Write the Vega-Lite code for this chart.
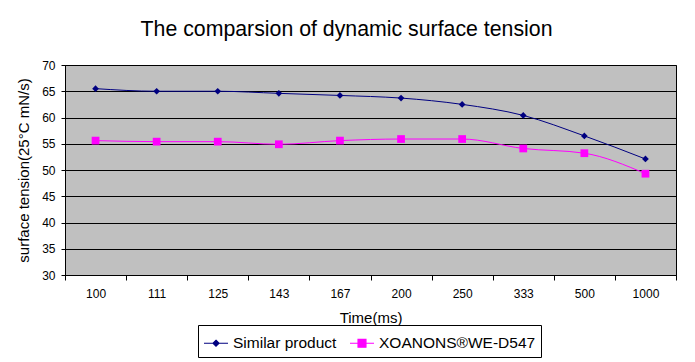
{
  "$schema": "https://vega.github.io/schema/vega-lite/v6.json",
  "autosize": "none",
  "width": 611,
  "height": 210,
  "padding": {"left": 65, "top": 65, "right": 19, "bottom": 87},
  "background": "white",
  "title": {"text": "The comparsion of dynamic surface tension", "font": "Liberation Sans", "fontSize": 21.3, "fontWeight": "normal", "color": "black", "offset": 19, "dx": -24},
  "data": {"values": [
    {"t": "100", "s": "Similar product", "v": 65.5},
    {"t": "111", "s": "Similar product", "v": 65.0},
    {"t": "125", "s": "Similar product", "v": 65.0},
    {"t": "143", "s": "Similar product", "v": 64.6},
    {"t": "167", "s": "Similar product", "v": 64.2},
    {"t": "200", "s": "Similar product", "v": 63.7},
    {"t": "250", "s": "Similar product", "v": 62.5},
    {"t": "333", "s": "Similar product", "v": 60.4},
    {"t": "500", "s": "Similar product", "v": 56.5},
    {"t": "1000", "s": "Similar product", "v": 52.1},
    {"t": "100", "s": "XOANONS®WE-D547", "v": 55.6},
    {"t": "111", "s": "XOANONS®WE-D547", "v": 55.4},
    {"t": "125", "s": "XOANONS®WE-D547", "v": 55.4},
    {"t": "143", "s": "XOANONS®WE-D547", "v": 54.9},
    {"t": "167", "s": "XOANONS®WE-D547", "v": 55.6},
    {"t": "200", "s": "XOANONS®WE-D547", "v": 55.9},
    {"t": "250", "s": "XOANONS®WE-D547", "v": 55.9},
    {"t": "333", "s": "XOANONS®WE-D547", "v": 54.1},
    {"t": "500", "s": "XOANONS®WE-D547", "v": 53.2},
    {"t": "1000", "s": "XOANONS®WE-D547", "v": 49.3}
  ]},
  "encoding": {
    "x": {"field": "t", "type": "ordinal", "sort": null,
      "scale": {"type": "band", "paddingInner": 0, "paddingOuter": 0},
      "axis": {"title": "Time(ms)", "titleFont": "Liberation Sans", "titleFontSize": 15, "titleFontWeight": "normal", "titleColor": "black", "titlePadding": 11,
        "labelFont": "Liberation Sans", "labelFontSize": 12, "labelColor": "black", "labelAngle": 0, "labelPadding": 8,
        "tickBand": "extent", "tickSize": 5, "tickColor": "black", "domainColor": "black", "grid": false}},
    "y": {"field": "v", "type": "quantitative",
      "scale": {"domain": [30, 70], "nice": false, "zero": false},
      "axis": {"title": "surface tension(25°C mN/s)", "titleFont": "Liberation Sans", "titleFontSize": 15, "titleFontWeight": "normal", "titleColor": "black", "titlePadding": 10,
        "labelFont": "Liberation Sans", "labelFontSize": 12, "labelColor": "black", "labelPadding": 6,
        "values": [30, 35, 40, 45, 50, 55, 60, 65, 70], "tickSize": 4, "tickColor": "black", "domainColor": "black",
        "grid": true, "gridColor": "black", "gridOpacity": 1, "gridWidth": 1}},
    "color": {"field": "s", "type": "nominal",
      "scale": {"domain": ["Similar product", "XOANONS®WE-D547"], "range": ["#000080", "#FF00FF"]},
      "legend": {"title": null, "orient": "none", "direction": "horizontal", "legendX": 133, "legendY": 260,
        "strokeColor": "black", "padding": 5, "labelFont": "Liberation Sans", "labelFontSize": 15.5, "labelColor": "black",
        "symbolSize": 576, "symbolStrokeWidth": 1.2, "columnPadding": 10, "labelOffset": 4,
        "symbolType": {"expr": "datum.value === 'Similar product' ? 'M-1,0H1M0,-0.25L0.25,0L0,0.25L-0.25,0Z' : 'M-1,0H1M-0.33,-0.33H0.33V0.33H-0.33Z'"},
        "encode": {"symbols": {"update": {"stroke": {"scale": "color", "field": "value"}, "strokeWidth": {"value": 1.2}, "fill": {"scale": "color", "field": "value"}, "opacity": {"value": 1}}}}}}
  },
  "layer": [
    {"mark": {"type": "line", "interpolate": "monotone", "strokeWidth": 1}},
    {"transform": [{"filter": "datum.s === 'Similar product'"}],
      "mark": {"type": "point", "filled": true, "opacity": 1, "shape": "diamond", "size": 45}},
    {"transform": [{"filter": "datum.s !== 'Similar product'"}],
      "mark": {"type": "point", "filled": true, "opacity": 1, "shape": "square", "size": 60}}
  ],
  "config": {
    "view": {"fill": "#C0C0C0", "stroke": "black", "strokeWidth": 1}
  }
}
